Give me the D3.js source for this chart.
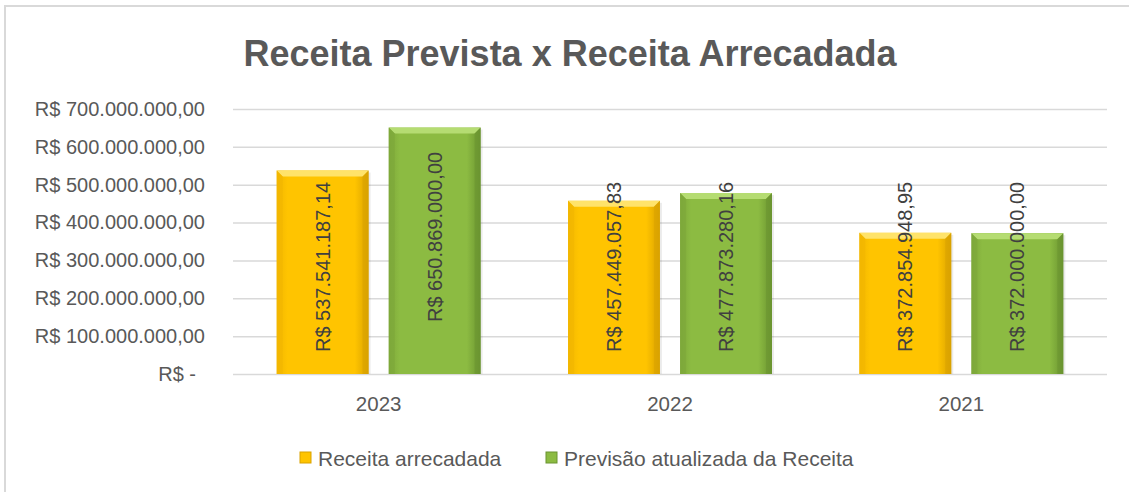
<!DOCTYPE html>
<head>
    <meta charset="utf-8">
    <script src="https://d3js.org/d3.v7.js"></script>
    <style>
        body { margin: 0; background: #fff; }
        text { font-family: "Liberation Sans", Arial, sans-serif; }
    </style>
</head>
<body>
    <svg id="chart" width="1129" height="492"></svg>
    <script>
        // Data
        const years = ["2023", "2022", "2021"];
        const seriesNames = ["Receita arrecadada", "Previsão atualizada da Receita"];
        const arrecadada = [537541187.14, 457449057.83, 372854948.95];
        const previsao = [650869000.00, 477873280.16, 372000000.00];
        const yTicks = [0, 100e6, 200e6, 300e6, 400e6, 500e6, 600e6, 700e6];

        // label lift above the axis (px), one per bar, year by year
        const labelLift = [[22, 52], [22, 22], [22, 22]];

        const palette = [
            { main: "#ffc400", light: "#ffe36a", dark: "#d9a200", side: "#f2b700" },
            { main: "#8cbb42", light: "#b5dc72", dark: "#6a9430", side: "#7ea83a" }
        ];

        const svg = d3.select("#chart");

        // chart border (right and bottom are cut off in the picture)
        svg.append("rect")
            .attr("x", 5).attr("y", 6)
            .attr("width", 1300).attr("height", 700)
            .attr("fill", "none")
            .attr("stroke", "#d9d9d9")
            .attr("stroke-width", 2);

        const pt = d3.formatLocale({
            decimal: ",", thousands: ".", grouping: [3], currency: ["R$ ", ""]
        });
        const money = pt.format("$,.2f");
        const tickFmt = d => d === 0 ? "R$ -" : money(d);

        const plotL = 233, plotR = 1107, plotT = 109, plotB = 374;

        const x0 = d3.scaleBand().domain(years).range([plotL, plotR]).paddingInner(0.3).paddingOuter(0.15);
        const x1 = d3.scaleBand().domain(seriesNames).range([0, x0.bandwidth()]).paddingInner(0.18);
        const y = d3.scaleLinear().domain([0, 700e6]).range([plotB, plotT]);

        // title
        svg.append("text")
            .attr("x", 570).attr("y", 66)
            .attr("text-anchor", "middle")
            .attr("font-size", 36)
            .attr("font-weight", "bold")
            .attr("fill", "#595959")
            .text("Receita Prevista x Receita Arrecadada");

        // gridlines + y labels
        const yAxis = svg.append("g")
            .attr("transform", `translate(${plotL},0)`)
            .call(d3.axisLeft(y).tickValues(yTicks).tickFormat(tickFmt)
                .tickSize(-(plotR - plotL)).tickPadding(28));
        yAxis.select(".domain").remove();
        yAxis.selectAll("line").attr("stroke", "#d9d9d9").attr("stroke-width", 1.5);
        yAxis.selectAll("text")
            .attr("font-size", 20)
            .attr("fill", "#595959")
            .attr("dx", d => d === 0 ? -9 : 0)
            .style("font-family", '"Liberation Sans", Arial, sans-serif');

        // x labels
        const xAxis = svg.append("g")
            .attr("transform", `translate(0,${plotB})`)
            .call(d3.axisBottom(x0).tickSize(0).tickPadding(22));
        xAxis.select(".domain").remove();
        xAxis.selectAll("text")
            .attr("font-size", 20.5)
            .attr("fill", "#595959")
            .style("font-family", '"Liberation Sans", Arial, sans-serif');

        // bevel gradients
        const defs = svg.append("defs");
        palette.forEach((c, i) => {
            const g = defs.append("linearGradient").attr("id", "body" + i)
                .attr("x1", 0).attr("x2", 1).attr("y1", 0).attr("y2", 0);
            g.append("stop").attr("offset", "0%").attr("stop-color", c.side);
            g.append("stop").attr("offset", "12%").attr("stop-color", c.main);
            g.append("stop").attr("offset", "85%").attr("stop-color", c.main);
            g.append("stop").attr("offset", "100%").attr("stop-color", c.dark);
        });

        const rows = years.map((yr, i) => ({
            year: yr,
            bars: [arrecadada[i], previsao[i]].map((v, s) => ({
                s, v, lift: labelLift[i][s], name: seriesNames[s]
            }))
        }));

        const groups = svg.append("g").selectAll("g")
            .data(rows)
            .join("g")
            .attr("transform", d => `translate(${x0(d.year)},0)`);

        const bars = groups.selectAll("g.bar")
            .data(d => d.bars)
            .join("g")
            .attr("class", "bar");

        const bw = x1.bandwidth();
        const bev = 6;

        bars.append("rect")
            .attr("x", d => x1(d.name) + 2)
            .attr("y", d => y(d.v) + 2)
            .attr("width", bw)
            .attr("height", d => plotB - y(d.v) - 2)
            .attr("fill", "#000")
            .attr("opacity", 0.08);

        bars.append("rect")
            .attr("x", d => x1(d.name))
            .attr("y", d => y(d.v))
            .attr("width", bw)
            .attr("height", d => plotB - y(d.v))
            .attr("fill", d => `url(#body${d.s})`);

        // top bevel
        bars.append("path")
            .attr("d", d => {
                const x = x1(d.name), t = y(d.v);
                return `M${x},${t}L${x + bw},${t}L${x + bw - bev},${t + bev}L${x + bev},${t + bev}Z`;
            })
            .attr("fill", d => palette[d.s].light);

        // right bevel
        bars.append("path")
            .attr("d", d => {
                const x = x1(d.name), t = y(d.v);
                return `M${x + bw},${t}L${x + bw},${plotB}L${x + bw - bev},${plotB}L${x + bw - bev},${t + bev}Z`;
            })
            .attr("fill", d => palette[d.s].dark)
            .attr("opacity", 0.6);

        // left bevel
        bars.append("path")
            .attr("d", d => {
                const x = x1(d.name), t = y(d.v);
                return `M${x},${t}L${x + bev},${t + bev}L${x + bev},${plotB}L${x},${plotB}Z`;
            })
            .attr("fill", d => palette[d.s].side)
            .attr("opacity", 0.7);

        // value labels
        bars.append("text")
            .attr("transform", d => `translate(${x1(d.name) + bw / 2},${plotB - d.lift}) rotate(-90)`)
            .attr("dy", "0.35em")
            .attr("font-size", 20)
            .attr("fill", "#404040")
            .text(d => money(d.v));

        // legend
        const legendX = [300, 546];
        const legend = svg.append("g").selectAll("g")
            .data(seriesNames)
            .join("g")
            .attr("transform", (d, i) => `translate(${legendX[i]},452)`);
        legend.append("rect")
            .attr("width", 11).attr("height", 11)
            .attr("fill", (d, i) => palette[i].main)
            .attr("stroke", (d, i) => palette[i].dark)
            .attr("stroke-width", 1);
        legend.append("text")
            .attr("x", 18).attr("y", 13.5)
            .attr("font-size", 21)
            .attr("fill", "#595959")
            .text(d => d);
    </script>
</body>
